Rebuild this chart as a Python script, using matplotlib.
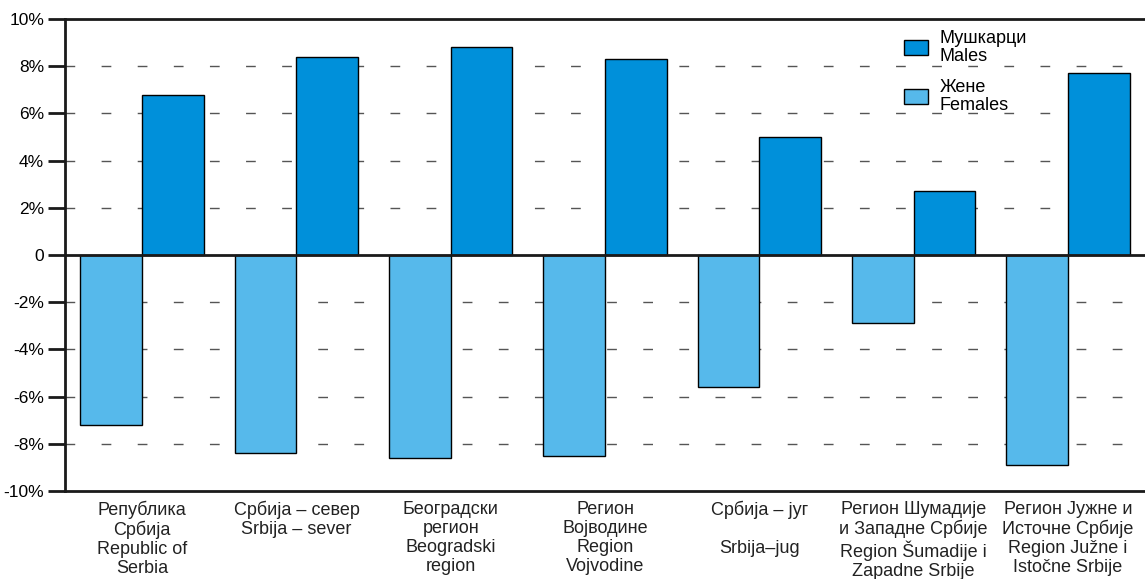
import matplotlib.pyplot as plt
import numpy as np

plt.rcParams['font.family'] = ['Liberation Sans', 'DejaVu Sans']

categories = [
    "Република\nСрбија\nRepublic of\nSerbia",
    "Србија – север\nSrbija – sever",
    "Београдски\nрегион\nBeogradski\nregion",
    "Регион\nВојводине\nRegion\nVojvodine",
    "Србија – југ\n\nSrbija–jug",
    "Регион Шумадије\nи Западне Србије\nRegion Šumadije i\nZapadne Srbije",
    "Регион Јужне и\nИсточне Србије\nRegion Južne i\nIstočne Srbije",
]
males = [6.8, 8.4, 8.8, 8.3, 5.0, 2.7, 7.7]
females = [-7.2, -8.4, -8.6, -8.5, -5.6, -2.9, -8.9]
yticks = [-10, -8, -6, -4, -2, 0, 2, 4, 6, 8, 10]
ylabels = ["-10%", "-8%", "-6%", "-4%", "-2%", "0", "2%", "4%", "6%", "8%", "10%"]

male_color = "#0090DA"
female_color = "#56B9EB"

fig = plt.figure(figsize=(11.45, 5.79), dpi=100)
ax = fig.add_axes([0.0568, 0.152, 0.9432, 0.815])

x = np.arange(len(categories))
w = 0.4
ax.bar(x + w / 2, males, w, color=male_color, edgecolor="black", linewidth=1,
       label="Мушкарци\nMales", zorder=3)
ax.bar(x - w / 2, females, w, color=female_color, edgecolor="black", linewidth=1,
       label="Жене\nFemales", zorder=3)

for v in yticks:
    if v in (-10, 0, 10):
        continue
    ax.axhline(v, color="#555555", linewidth=1, linestyle=(0, (7, 19)), zorder=1)
ax.axhline(0, color="#1a1a1a", linewidth=2, zorder=4)

ax.set_xlim(-0.5, 6.5)
ax.set_ylim(-10, 10)
ax.set_yticks(yticks)
ax.set_yticklabels(ylabels, fontsize=12.5)
ax.set_xticks(x)
ax.set_xticklabels(categories, fontsize=13, linespacing=1.15, color="#222222")
ax.tick_params(axis="x", length=0, pad=7)
ax.tick_params(axis="y", length=12, width=2, color="#1a1a1a", pad=3)

for s in ["left", "bottom", "top"]:
    ax.spines[s].set_linewidth(2)
    ax.spines[s].set_color("#1a1a1a")
ax.spines["right"].set_visible(False)

leg = ax.legend(loc="upper left", bbox_to_anchor=(0.762, 1.012), frameon=False,
                fontsize=13, handlelength=1.3, handleheight=0.85, labelspacing=0.75,
                handletextpad=0.65)
for t in leg.get_texts():
    t.set_linespacing(1.1)

fig.savefig("out.png", dpi=100)
